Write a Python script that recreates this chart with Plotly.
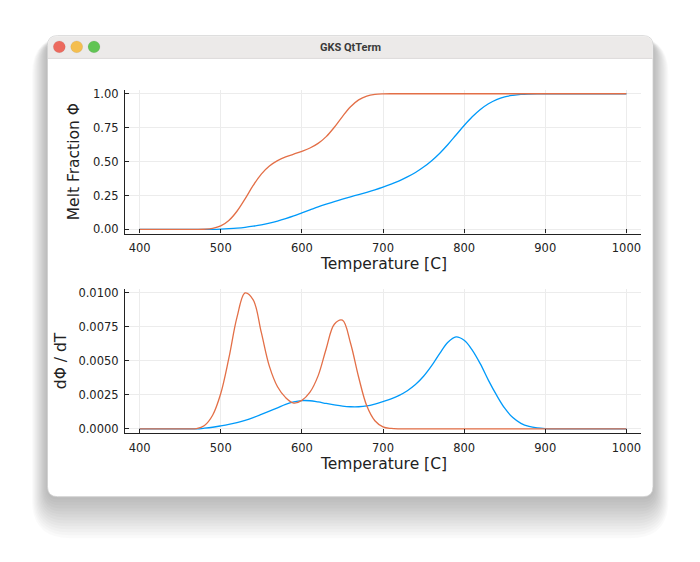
import plotly.graph_objects as go

W, H = 700, 562

# ---------------- data ----------------
temperature = [400, 410, 420, 430, 440, 450, 460, 470, 480, 490,
               500, 510, 520, 530, 540, 550, 560, 570, 580, 590,
               600, 610, 620, 630, 640, 650, 660, 670, 680, 690,
               700, 710, 720, 730, 740, 750, 760, 770, 780, 790,
               800, 810, 820, 830, 840, 850, 860, 870, 880, 890,
               900, 910, 920, 930, 940, 950, 960, 970, 980, 990, 1000]

phi_blue = [0, 0, 0, 0, 0, 0, 0, 0.0, 0.0003, 0.001,
            0.003, 0.006, 0.010, 0.016, 0.024, 0.034, 0.047, 0.062, 0.080, 0.100,
            0.122, 0.144, 0.166, 0.186, 0.205, 0.223, 0.240, 0.257, 0.274, 0.292,
            0.312, 0.334, 0.358, 0.387, 0.420, 0.460, 0.507, 0.562, 0.626, 0.696,
            0.766, 0.830, 0.884, 0.926, 0.957, 0.977, 0.988, 0.995, 0.998, 0.9995,
            1.0, 1.0, 1.0, 1.0, 1.0, 1.0, 1.0, 1.0, 1.0, 1.0, 1.0]

phi_red = [0, 0, 0, 0, 0, 0, 0, 0.0, 0.0015, 0.008,
           0.026, 0.066, 0.134, 0.225, 0.324, 0.408, 0.467, 0.507, 0.534, 0.555,
           0.576, 0.600, 0.634, 0.684, 0.753, 0.832, 0.904, 0.955, 0.983, 0.995,
           0.999, 1.0, 1.0, 1.0, 1.0, 1.0, 1.0, 1.0, 1.0, 1.0,
           1.0, 1.0, 1.0, 1.0, 1.0, 1.0, 1.0, 1.0, 1.0, 1.0,
           1.0, 1.0, 1.0, 1.0, 1.0, 1.0, 1.0, 1.0, 1.0, 1.0, 1.0]

dphi_blue = [0, 0, 0, 0, 0, 0, 0, 0, 0.00005, 0.00012,
             0.00022, 0.00033, 0.00046, 0.00063, 0.00083, 0.00106, 0.00130, 0.00155, 0.00180, 0.00198,
             0.00208, 0.00207, 0.00198, 0.00187, 0.00177, 0.00168, 0.00163, 0.00163, 0.00169, 0.00183,
             0.00201, 0.00221, 0.00247, 0.00281, 0.00326, 0.00387, 0.00465, 0.00556, 0.00638, 0.00677,
             0.00652, 0.00580, 0.00478, 0.00357, 0.00248, 0.00152, 0.00083, 0.00041, 0.00018, 0.00007,
             0.00002, 0, 0, 0, 0, 0, 0, 0, 0, 0, 0]

dphi_red = [0, 0, 0, 0, 0, 0, 0, 0.00002, 0.00025, 0.0010,
            0.0026, 0.0052, 0.0082, 0.0100, 0.0095, 0.0071, 0.0046, 0.0031, 0.0023, 0.0019,
            0.0021, 0.0027, 0.0039, 0.0059, 0.0077, 0.0080, 0.0063, 0.0038, 0.0017, 0.0006,
            0.00015, 0.00003, 0, 0, 0, 0, 0, 0, 0, 0,
            0, 0, 0, 0, 0, 0, 0, 0, 0, 0,
            0, 0, 0, 0, 0, 0, 0, 0, 0, 0, 0]

x_ticks = [400, 500, 600, 700, 800, 900, 1000]
y1_ticks = [0.0, 0.25, 0.50, 0.75, 1.00]
y2_ticks = [0.0, 0.0025, 0.0050, 0.0075, 0.0100]

window_title = "GKS QtTerm"
x_title = "Temperature [C]"
y1_title = "Melt Fraction Φ"
y2_title = "dΦ / dT"

BLUE = "#009AFA"
RED = "#E36F47"
FONT = "DejaVu Sans"


# ---------------- helpers (pixel -> paper) ----------------
def X(px):
    return px / W


def Y(py):
    return 1 - py / H


def rrect_path(x0, y0, x1, y1, r, top_only=False):
    rb = 0 if top_only else r
    pts = [
        f"M {X(x0 + r)},{Y(y0)}",
        f"L {X(x1 - r)},{Y(y0)}",
        f"Q {X(x1)},{Y(y0)} {X(x1)},{Y(y0 + r)}",
        f"L {X(x1)},{Y(y1 - rb)}",
    ]
    if rb:
        pts.append(f"Q {X(x1)},{Y(y1)} {X(x1 - rb)},{Y(y1)}")
    pts.append(f"L {X(x0 + rb)},{Y(y1)}")
    if rb:
        pts.append(f"Q {X(x0)},{Y(y1)} {X(x0)},{Y(y1 - rb)}")
    pts.append(f"L {X(x0)},{Y(y0 + r)}")
    pts.append(f"Q {X(x0)},{Y(y0)} {X(x0 + r)},{Y(y0)}")
    pts.append("Z")
    return " ".join(pts)


shapes = []
# soft window shadow
N = 14
for i in range(1, N + 1):
    shapes.append(dict(type="path", xref="paper", yref="paper", layer="below",
                       path=rrect_path(47.5 - 1.1 * i, 33 - 0.4 * i + 6,
                                       653 + 1.1 * i, 499 + 3.0 * i, 10 + 2 * i),
                       fillcolor="rgba(0,0,0,0.02)", line=dict(width=0)))
# window body
shapes.append(dict(type="path", xref="paper", yref="paper", layer="below",
                   path=rrect_path(47.5, 33, 653, 499, 10),
                   fillcolor="white", line=dict(color="#cfcfcf", width=0.8)))
# title bar
shapes.append(dict(type="path", xref="paper", yref="paper", layer="below",
                   path=rrect_path(48, 33.5, 652.5, 56, 9.5, top_only=True),
                   fillcolor="#ECEAE9", line=dict(width=0)))
shapes.append(dict(type="line", xref="paper", yref="paper", layer="below",
                   x0=X(48), x1=X(652.5), y0=Y(56), y1=Y(56),
                   line=dict(color="#dddbda", width=1)))
# traffic lights
for cx, col in [(59.3, "#EC6A5E"), (76.7, "#F4BE4F"), (94.0, "#61C454")]:
    r = 6
    shapes.append(dict(type="circle", xref="paper", yref="paper", layer="below",
                       x0=X(cx - r), x1=X(cx + r), y0=Y(44.3 + r), y1=Y(44.3 - r),
                       fillcolor=col, line=dict(color="rgba(0,0,0,0.12)", width=0.5)))

fig = go.Figure()
fig.add_trace(go.Scatter(x=temperature, y=phi_blue, mode="lines", xaxis="x", yaxis="y",
                         line=dict(color=BLUE, width=1.3, shape="spline")))
fig.add_trace(go.Scatter(x=temperature, y=phi_red, mode="lines", xaxis="x", yaxis="y",
                         line=dict(color=RED, width=1.3, shape="spline")))
fig.add_trace(go.Scatter(x=temperature, y=dphi_blue, mode="lines", xaxis="x2", yaxis="y2",
                         line=dict(color=BLUE, width=1.3, shape="spline")))
fig.add_trace(go.Scatter(x=temperature, y=dphi_red, mode="lines", xaxis="x2", yaxis="y2",
                         line=dict(color=RED, width=1.3, shape="spline")))

axis_common = dict(showline=True, linecolor="#222222", linewidth=1.1,
                   ticks="inside", ticklen=4, tickwidth=1, tickcolor="#222222",
                   showgrid=True, gridcolor="#ececec", gridwidth=1, zeroline=False,
                   tickfont=dict(family=FONT, size=11.5, color="#222222"))
xaxis_common = dict(axis_common, ticklabelstandoff=4)
yaxis_common = dict(axis_common, ticklabelstandoff=3)


def label(text, px, py, size=15.5, angle=0, family=FONT, color="#222222", weight="normal"):
    return dict(text=text, x=X(px), y=Y(py), xref="paper", yref="paper",
                xanchor="center", yanchor="middle", textangle=angle, showarrow=False,
                font=dict(family=family, size=size, color=color, weight=weight))


fig.update_layout(
    width=W, height=H, margin=dict(l=0, r=0, t=0, b=0),
    paper_bgcolor="white", plot_bgcolor="rgba(0,0,0,0)", showlegend=False,
    shapes=shapes,
    xaxis=dict(xaxis_common, domain=[X(125), X(641)], range=[382, 1018],
               tickvals=x_ticks, anchor="y"),
    yaxis=dict(yaxis_common, domain=[Y(233), Y(87.6)], range=[-0.03, 1.03],
               tickvals=y1_ticks, tickformat=".2f", anchor="x"),
    xaxis2=dict(xaxis_common, domain=[X(125), X(641)], range=[382, 1018],
                tickvals=x_ticks, anchor="y2"),
    yaxis2=dict(yaxis_common, domain=[Y(434.6), Y(289)], range=[-0.0003, 0.0103],
                tickvals=y2_ticks, tickformat=".4f", anchor="x2"),
    annotations=[
        label(window_title, 350, 44.5, size=11, family="Roboto", color="#3a3a3a", weight="bold"),
        label(x_title, 383, 264),
        label(x_title, 383, 465.5),
        label(y1_title, 74, 161, angle=-90),
        label(y2_title, 61, 362, angle=-90),
    ],
)

fig.write_html("out.html", config={"displayModeBar": False},
               post_script="document.body.style.margin='0';document.body.style.overflow='hidden';")
